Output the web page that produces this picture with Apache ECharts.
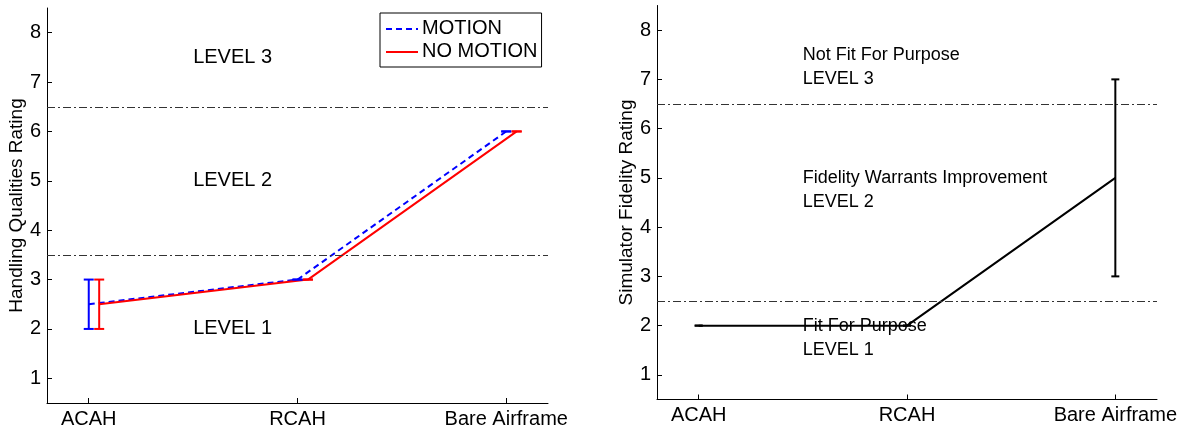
<!DOCTYPE html>
<html>
<head>
<meta charset="utf-8">
<script src="https://cdn.jsdelivr.net/npm/echarts@6/dist/echarts.min.js"></script>
<style>html,body{margin:0;padding:0;background:#fff}#c{width:1181px;height:429px}</style>
</head>
<body>
<div id="c"></div>
<script>
// ---- data ----
const categories = ['ACAH', 'RCAH', 'Bare Airframe'];
const catPos = [1, 2, 3];
const yTicks = [1, 2, 3, 4, 5, 6, 7, 8];

// Left panel: Handling Qualities Rating
const motionX = [1, 2, 3];
const motionY = [2.5, 3, 6];
const motionLow = [2, 3, 6];
const motionHigh = [3, 3, 6];
const noMotionX = [1.05, 2.05, 3.05];
const noMotionY = [2.5, 3, 6];
const noMotionLow = [2, 3, 6];
const noMotionHigh = [3, 3, 6];
const hqrBoundaries = [3.5, 6.5];
const hqrLabels = [[1.5, 7.5, 'LEVEL 3'], [1.5, 5, 'LEVEL 2'], [1.5, 2, 'LEVEL 1']];

// Right panel: Simulator Fidelity Rating
const sfrX = [1, 2, 3];
const sfrY = [2, 2, 5];
const sfrLow = [2, 2, 3];
const sfrHigh = [2, 2, 7];
const sfrBoundaries = [2.5, 6.5];
const sfrLabels = [
  [1.5, 7.5, 'Not Fit For Purpose'], [1.5, 7, 'LEVEL 3'],
  [1.5, 5, 'Fidelity Warrants Improvement'], [1.5, 4.5, 'LEVEL 2'],
  [1.5, 2, 'Fit For Purpose'], [1.5, 1.5, 'LEVEL 1']
];

// ---- helpers ----
const FONT = '"Liberation Sans", Arial, Helvetica, sans-serif';
const zip = (xs, ys) => xs.map((x, i) => [x, ys[i]]);
const zip3 = (xs, a, b) => xs.map((x, i) => [x, a[i], b[i]]);

function errRender(color, lw, capHalf) {
  return function (params, api) {
    const x = api.value(0);
    const lo = api.coord([x, api.value(1)]);
    const hi = api.coord([x, api.value(2)]);
    const st = { stroke: color, lineWidth: lw };
    return {
      type: 'group',
      children: [
        { type: 'line', shape: { x1: lo[0], y1: lo[1], x2: hi[0], y2: hi[1] }, style: st },
        { type: 'line', shape: { x1: lo[0] - capHalf, y1: lo[1], x2: lo[0] + capHalf, y2: lo[1] }, style: st },
        { type: 'line', shape: { x1: hi[0] - capHalf, y1: hi[1], x2: hi[0] + capHalf, y2: hi[1] }, style: st }
      ]
    };
  };
}

function xAxisDef(gi) {
  return {
    type: 'value', gridIndex: gi, min: 0.8, max: 3.2,
    axisLine: { show: true, onZero: false, lineStyle: { color: '#000', width: 1 } },
    axisTick: { show: true, inside: true, length: 5, customValues: catPos, lineStyle: { color: '#000' } },
    axisLabel: {
      show: true, customValues: catPos, margin: 6, color: '#000', fontSize: 20, fontFamily: FONT,
      formatter: v => categories[catPos.indexOf(Math.round(v))] || ''
    },
    splitLine: { show: false }
  };
}
function yAxisDef(gi, name) {
  return {
    type: 'value', gridIndex: gi, min: 0.5, max: 8.5,
    name: name, nameLocation: 'middle', nameGap: 20,
    nameTextStyle: { color: '#000', fontSize: 19, fontFamily: FONT },
    axisLine: { show: true, lineStyle: { color: '#000', width: 1 } },
    axisTick: { show: true, inside: true, length: 5, customValues: yTicks, lineStyle: { color: '#000' } },
    axisLabel: { show: true, customValues: yTicks, margin: 6, color: '#000', fontSize: 20, fontFamily: FONT },
    splitLine: { show: false }
  };
}
function boundaryLines(vals) {
  return {
    silent: true, symbol: 'none', label: { show: false },
    lineStyle: { color: '#333', width: 1, type: [8, 3, 2, 3] },
    data: vals.map(v => ({ yAxis: v }))
  };
}
function textSeries(gi, items, size) {
  return {
    type: 'scatter', xAxisIndex: gi, yAxisIndex: gi, symbolSize: 0, silent: true,
    itemStyle: { opacity: 1 },
    data: items.map(d => ({ value: [d[0], d[1]], name: d[2] })),
    label: { show: true, position: 'right', distance: 0, formatter: p => p.name, color: '#000', opacity: 1, fontSize: size, fontFamily: FONT },
    z: 1
  };
}

const option = {
  animation: false,
  backgroundColor: '#fff',
  grid: [
    { left: 47, right: 633, top: 8, height: 395 },
    { left: 657, right: 24, top: 5.5, height: 394 }
  ],
  xAxis: [xAxisDef(0), xAxisDef(1)],
  yAxis: [yAxisDef(0, 'Handling Qualities Rating'), yAxisDef(1, 'Simulator Fidelity Rating')],
  legend: {
    left: 380, top: 13, orient: 'vertical',
    padding: [5, 4, 6, 5], itemGap: 3, itemWidth: 32, itemHeight: 14,
    borderColor: '#000', borderWidth: 1, backgroundColor: '#fff',
    textStyle: { color: '#000', fontSize: 20, fontFamily: FONT },
    data: [
      { name: 'MOTION', icon: 'rect', itemStyle: { color: 'rgba(0,0,0,0)', borderWidth: 0 } },
      { name: 'NO MOTION', icon: 'rect', itemStyle: { color: 'rgba(0,0,0,0)', borderWidth: 0 } }
    ]
  },
  series: [
    {
      name: 'MOTION', type: 'line', xAxisIndex: 0, yAxisIndex: 0,
      data: zip(motionX, motionY), symbol: 'none',
      lineStyle: { color: '#0000ff', width: 2, type: [6, 4] }, itemStyle: { color: '#0000ff' },
      markLine: boundaryLines(hqrBoundaries), z: 3
    },
    {
      name: 'NO MOTION', type: 'line', xAxisIndex: 0, yAxisIndex: 0,
      data: zip(noMotionX, noMotionY), symbol: 'none',
      lineStyle: { color: '#ff0000', width: 2, type: 'solid' }, itemStyle: { color: '#ff0000' }, z: 3
    },
    {
      type: 'custom', xAxisIndex: 0, yAxisIndex: 0, silent: true,
      renderItem: errRender('#0000ff', 2, 5), data: zip3(motionX, motionLow, motionHigh), z: 4
    },
    {
      type: 'custom', xAxisIndex: 0, yAxisIndex: 0, silent: true,
      renderItem: errRender('#ff0000', 2, 5), data: zip3(noMotionX, noMotionLow, noMotionHigh), z: 4
    },
    textSeries(0, hqrLabels, 20),
    {
      name: 'SFR', type: 'line', xAxisIndex: 1, yAxisIndex: 1,
      data: zip(sfrX, sfrY), symbol: 'none',
      lineStyle: { color: '#000', width: 2 },
      markLine: boundaryLines(sfrBoundaries), z: 3
    },
    {
      type: 'custom', xAxisIndex: 1, yAxisIndex: 1, silent: true,
      renderItem: errRender('#000', 2, 4), data: zip3(sfrX, sfrLow, sfrHigh), z: 4
    },
    textSeries(1, sfrLabels, 18)
  ]
};

const chart = echarts.init(document.getElementById('c'), null, { renderer: 'canvas' });
chart.setOption(option);

// legend line samples drawn to match series styles
chart.setOption({
  graphic: [
    { type: 'line', shape: { x1: 386, y1: 29, x2: 418, y2: 29 }, style: { stroke: '#0000ff', lineWidth: 2, lineDash: [6, 4] }, z: 100 },
    { type: 'line', shape: { x1: 386, y1: 52, x2: 418, y2: 52 }, style: { stroke: '#ff0000', lineWidth: 2 }, z: 100 }
  ]
});
</script>
</body>
</html>
